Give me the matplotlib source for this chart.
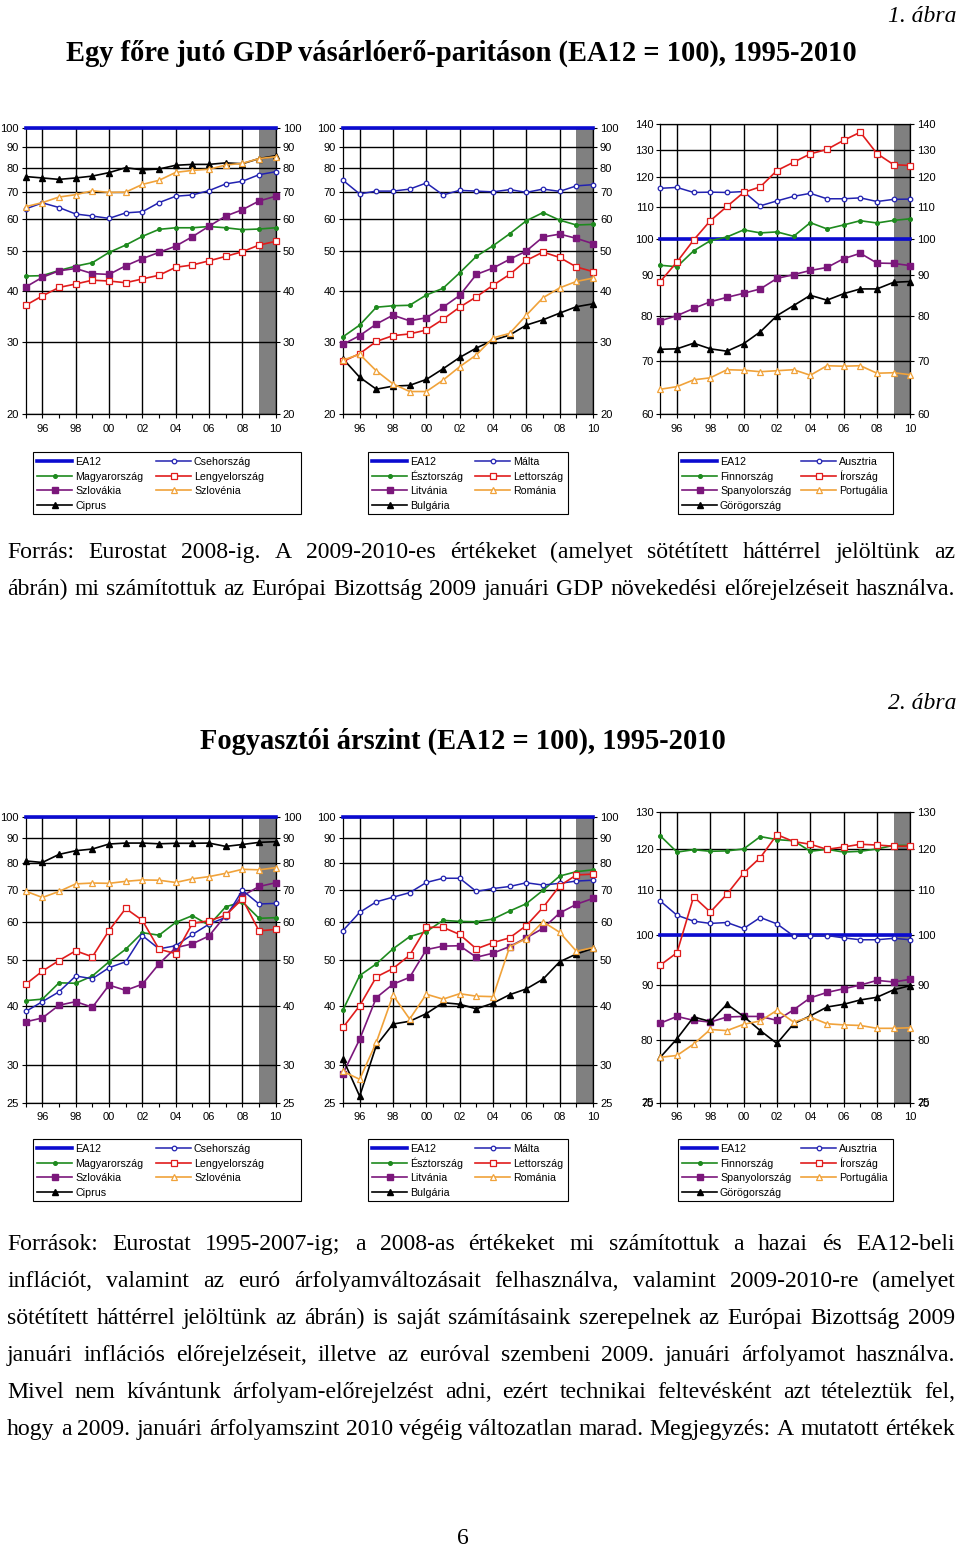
import numpy as np
import matplotlib
matplotlib.use('Agg')
import matplotlib.pyplot as plt
from matplotlib.lines import Line2D
from matplotlib.patches import Rectangle
from matplotlib.ticker import FixedLocator, NullLocator, NullFormatter

plt.rcParams['font.family'] = 'Liberation Sans'

years = np.arange(1995, 2011)
ea12 = [100] * 16

# 1. abra - GDP per capita, PPS (EA12 = 100)
gdp_cz = [63.5, 65.7, 64.0, 61.7, 61.0, 60.2, 62.1, 62.5, 65.8, 68.2, 68.7, 70.4, 73.1, 74.2, 77.0, 78.3]
gdp_hu = [43.5, 43.6, 44.9, 46.0, 46.9, 49.7, 51.8, 54.4, 56.6, 57.1, 57.1, 57.5, 57.1, 56.5, 56.7, 57.1]
gdp_sk = [40.9, 43.2, 44.8, 45.4, 44.1, 43.9, 46.1, 48.0, 49.7, 51.5, 54.3, 57.6, 61.0, 63.2, 66.4, 68.2]
gdp_pl = [36.9, 38.9, 40.8, 41.6, 42.5, 42.3, 41.9, 42.8, 43.7, 45.7, 46.3, 47.4, 48.6, 49.9, 51.8, 52.9]
gdp_si = [64.3, 65.8, 67.9, 68.8, 70.3, 69.7, 69.8, 72.9, 74.6, 78.0, 78.9, 79.4, 81.3, 82.1, 84.3, 85.2]
gdp_cy = [76.2, 75.6, 75.0, 75.6, 76.4, 77.9, 80.1, 79.1, 79.5, 81.2, 81.6, 81.6, 82.3, 81.9, 84.3, 85.7]

gdp_mt = [74.6, 69.1, 70.2, 70.2, 71.0, 73.5, 68.7, 70.5, 70.2, 69.9, 70.8, 69.7, 71.0, 70.1, 72.3, 72.8]
gdp_ee = [30.9, 33.0, 36.5, 36.8, 36.9, 39.1, 40.6, 44.3, 48.6, 51.6, 55.2, 59.4, 62.2, 59.6, 58.0, 58.2]
gdp_lv = [26.9, 28.1, 30.1, 31.1, 31.4, 32.1, 34.1, 36.5, 38.7, 41.3, 43.9, 47.5, 49.8, 48.3, 45.8, 44.6]
gdp_lt = [29.6, 31.1, 33.2, 34.9, 33.8, 34.4, 36.5, 39.0, 43.9, 45.5, 47.8, 50.1, 54.2, 55.1, 53.8, 52.2]
gdp_ro = [27.1, 28.0, 25.5, 23.7, 22.7, 22.7, 24.2, 26.1, 27.9, 30.7, 31.5, 34.9, 38.5, 40.7, 42.2, 43.0]
gdp_bg = [27.3, 24.6, 23.0, 23.4, 23.5, 24.3, 25.8, 27.5, 29.0, 30.3, 31.2, 33.0, 34.0, 35.3, 36.6, 37.2]

gdp_at = [116.1, 116.4, 114.7, 114.8, 114.7, 115.0, 110.3, 111.9, 113.4, 114.4, 112.6, 112.6, 112.9, 111.7, 112.4, 112.5]
gdp_fi = [92.7, 92.3, 96.7, 99.6, 100.7, 102.8, 101.9, 102.2, 100.9, 105.0, 103.1, 104.3, 105.6, 104.9, 105.7, 106.2]
gdp_ie = [88.4, 93.6, 99.8, 105.6, 110.1, 114.7, 116.6, 122.3, 125.3, 128.4, 130.1, 133.6, 136.8, 128.5, 124.4, 124.1]
gdp_es = [78.8, 80.0, 81.7, 83.3, 84.4, 85.4, 86.5, 89.2, 90.2, 91.3, 92.1, 94.5, 96.0, 93.3, 93.2, 92.6]
gdp_pt = [64.5, 65.0, 66.3, 66.7, 68.3, 68.2, 67.9, 68.1, 68.3, 67.2, 69.1, 69.0, 69.1, 67.6, 67.7, 67.3]
gdp_gr = [72.5, 72.6, 73.8, 72.6, 72.1, 73.7, 76.3, 80.0, 82.4, 84.9, 83.7, 85.3, 86.5, 86.5, 88.2, 88.4]

# 2. abra - price level (EA12 = 100)
cpi_cz = [38.9, 40.8, 42.8, 46.2, 45.6, 48.1, 49.5, 56.2, 52.7, 53.5, 56.5, 59.4, 61.4, 70.0, 65.5, 65.7]
cpi_hu = [41.0, 41.3, 44.7, 44.6, 46.2, 49.5, 52.6, 57.0, 56.3, 59.9, 61.9, 59.1, 64.6, 66.2, 61.1, 61.3]
cpi_sk = [37.0, 37.7, 40.1, 40.8, 39.7, 44.2, 43.1, 44.4, 49.0, 53.0, 54.0, 56.1, 62.0, 68.1, 71.3, 72.6]
cpi_pl = [44.4, 47.3, 49.8, 52.2, 50.7, 57.6, 64.1, 60.5, 52.6, 51.5, 59.6, 60.4, 62.0, 67.1, 57.5, 57.9]
cpi_si = [69.7, 67.6, 69.6, 72.2, 72.5, 72.4, 73.1, 73.6, 73.5, 72.7, 74.0, 74.8, 76.0, 77.5, 77.3, 78.1]
cpi_cy = [80.7, 80.1, 83.3, 84.8, 85.5, 87.6, 88.0, 88.0, 87.7, 87.9, 87.9, 88.0, 86.6, 87.4, 88.3, 88.6]

cpi_mt = [57.6, 62.9, 66.2, 67.7, 69.2, 72.7, 74.2, 74.2, 69.6, 70.6, 71.3, 72.6, 71.8, 72.4, 73.2, 73.5]
cpi_ee = [39.2, 46.3, 49.0, 52.7, 55.9, 57.3, 60.5, 60.2, 60.1, 60.9, 63.3, 65.6, 70.0, 75.0, 76.6, 77.3]
cpi_lv = [36.0, 40.0, 46.0, 47.9, 51.1, 58.5, 58.5, 56.5, 52.7, 54.3, 55.6, 59.0, 64.4, 71.5, 75.4, 75.7]
cpi_lt = [28.8, 34.0, 41.6, 44.4, 45.9, 52.5, 53.4, 53.5, 50.6, 51.6, 53.3, 55.6, 58.2, 62.7, 65.4, 67.3]
cpi_ro = [29.1, 28.0, 33.5, 42.1, 37.5, 42.3, 41.3, 42.4, 41.9, 41.8, 53.2, 55.4, 60.1, 57.1, 52.1, 53.0]
cpi_bg = [30.9, 25.8, 33.0, 36.6, 37.1, 38.5, 40.6, 40.3, 39.4, 40.5, 42.2, 43.4, 45.5, 49.5, 51.4, 52.8]

cpi_at = [107.5, 104.3, 103.0, 102.5, 102.7, 101.4, 103.8, 102.4, 99.8, 99.8, 99.9, 99.4, 99.0, 99.0, 99.3, 99.0]
cpi_fi = [123.5, 119.3, 119.9, 119.5, 119.6, 120.1, 123.3, 122.5, 122.2, 119.5, 120.0, 119.3, 119.5, 120.1, 121.0, 121.0]
cpi_ie = [93.8, 96.3, 108.5, 105.0, 109.1, 114.1, 117.9, 123.8, 122.0, 121.3, 120.0, 120.6, 121.3, 121.1, 120.8, 120.8]
cpi_es = [82.9, 84.1, 83.4, 83.1, 84.0, 84.1, 84.1, 83.4, 85.3, 87.5, 88.5, 89.2, 89.9, 90.8, 90.5, 91.0]
cpi_pt = [77.1, 77.4, 79.3, 81.8, 81.6, 82.7, 83.3, 85.2, 83.1, 84.0, 82.8, 82.6, 82.5, 82.0, 82.0, 82.1]
cpi_gr = [77.1, 80.2, 84.0, 83.2, 86.3, 84.1, 81.6, 79.4, 82.8, 84.2, 85.8, 86.3, 87.1, 87.6, 89.0, 89.8]

names_1 = ['EA12', 'Magyarország', 'Szlovákia', 'Ciprus', 'Csehország', 'Lengyelország', 'Szlovénia']
names_2 = ['EA12', 'Észtország', 'Litvánia', 'Bulgária', 'Málta', 'Lettország', 'Románia']
names_3 = ['EA12', 'Finnország', 'Spanyolország', 'Görögország', 'Ausztria', 'Írország', 'Portugália']

# line styles, same order as the legend names
styles = [
    dict(color='#0b0bd0', lw=2.6),
    dict(color='#1e8a1e', lw=1.2, marker='o', ms=2.6),
    dict(color='#7b177b', lw=1.2, marker='s', ms=4),
    dict(color='black', lw=1.2, marker='^', ms=4.5),
    dict(color='#2222b0', lw=1.1, marker='o', ms=3.3, mfc='white', mew=0.9),
    dict(color='#e01c1c', lw=1.2, marker='s', ms=4.3, mfc='white', mew=0.9),
    dict(color='#f0a23a', lw=1.2, marker='^', ms=4.8, mfc='white', mew=0.9),
]

W, H = 960, 1547
fig = plt.figure(figsize=(W / 100, H / 100), dpi=100)


def fx(px):
    return px / W


def fy(py):
    return 1 - py / H


def panel(left, top, bottom, series, yticks, ylim):
    ax = fig.add_axes([fx(left), fy(bottom), 250 / W, (bottom - top) / H])
    ax.set_yscale('log')
    ax.axvspan(2009, 2010, color='#808080', lw=0, zorder=0.3)
    for vals, st in zip(series, styles):
        ax.plot(years, vals, clip_on=False, zorder=3, **st)
    ax.set_xlim(1995, 2010)
    ax.set_ylim(*ylim)
    ax.yaxis.set_major_locator(FixedLocator(yticks))
    ax.yaxis.set_minor_locator(NullLocator())
    ax.yaxis.set_minor_formatter(NullFormatter())
    ax.set_yticklabels([str(t) for t in yticks])
    ax.set_xticks(range(1996, 2011, 2))
    ax.set_xticklabels(['%02d' % (y % 100) for y in range(1996, 2011, 2)])
    ax.set_xticks(range(1995, 2011), minor=True)
    ax.tick_params(axis='y', which='both', direction='out', left=True, right=True,
                   labelleft=True, labelright=True, length=3, width=0.8, pad=2, labelsize=8)
    ax.tick_params(axis='x', which='both', direction='out', length=3, width=0.8, pad=4, labelsize=8)
    ax.set_axisbelow(True)
    ax.grid(True, which='major', color='black', lw=1.0)
    for s in ax.spines.values():
        s.set_linewidth(0.9)
    return ax


def legend(names, left, top, width, col2_text, height=62):
    # box drawn by hand, entries laid out in two columns (4 + 3)
    fig.add_artist(Rectangle((fx(left), fy(top + height)), width / W, height / H,
                             transform=fig.transFigure, fill=False, ec='black', lw=0.8))
    for i, (name, st) in enumerate(zip(names, styles)):
        col, row = (0, i) if i < 4 else (1, i - 4)
        tx = left + 42 if col == 0 else col2_text
        hx = tx - 38
        yc = top + 9 + 14.6 * row
        fig.add_artist(Line2D([fx(hx), fx(hx + 17.5), fx(hx + 35)], [fy(yc)] * 3,
                              transform=fig.transFigure, markevery=[1], **st))
        fig.text(fx(tx), fy(yc + 4), name, fontsize=7.7, va='baseline', ha='left')


lefts = [25.7, 343, 660.3]
t20 = [20, 30, 40, 50, 60, 70, 80, 90, 100]
t25 = [25, 30, 40, 50, 60, 70, 80, 90, 100]

panel(lefts[0], 128.3, 414, [ea12, gdp_hu, gdp_sk, gdp_cy, gdp_cz, gdp_pl, gdp_si], t20, (20, 100))
panel(lefts[1], 128.3, 414, [ea12, gdp_ee, gdp_lt, gdp_bg, gdp_mt, gdp_lv, gdp_ro], t20, (20, 100))
panel(lefts[2], 124.3, 414, [ea12, gdp_fi, gdp_es, gdp_gr, gdp_at, gdp_ie, gdp_pt],
      list(range(60, 141, 10)), (60, 140))

panel(lefts[0], 816.7, 1102.7, [ea12, cpi_hu, cpi_sk, cpi_cy, cpi_cz, cpi_pl, cpi_si], t25, (25, 100))
panel(lefts[1], 816.7, 1102.7, [ea12, cpi_ee, cpi_lt, cpi_bg, cpi_mt, cpi_lv, cpi_ro], t25, (25, 100))
ax6 = panel(lefts[2], 811.7, 1102.7, [ea12, cpi_fi, cpi_es, cpi_gr, cpi_at, cpi_ie, cpi_pt],
            list(range(70, 131, 10)), (70, 130))
# the original has a stray "25" printed over the bottom labels
for xa, dx, ha in [(0, -5, 'right'), (1, 5, 'left')]:
    ax6.annotate('25', xy=(xa, 70), xycoords=ax6.get_yaxis_transform(), xytext=(dx, 0),
                 textcoords='offset points', ha=ha, va='center', fontsize=8)

for top in [452, 1139]:
    legend(names_1, 33, top, 268, 194)
    legend(names_2, 368, top, 200, 513)
    legend(names_3, 678, top, 215, 839)

# ---- texts ----
serif = 'Liberation Serif'
renderer = fig.canvas.get_renderer()


def text_width(s, **kw):
    t = fig.text(0, 0, s, **kw)
    w = t.get_window_extent(renderer).width
    t.remove()
    return w


def justify(line, base_y, size, x0=7, x1=955):
    words = line.split(' ')
    texts = [fig.text(0, fy(base_y), w, family=serif, fontsize=size, va='baseline') for w in words]
    widths = [t.get_window_extent(renderer).width for t in texts]
    gap = (x1 - x0 - sum(widths)) / (len(words) - 1)
    x = x0
    for t, w in zip(texts, widths):
        t.set_x(fx(x))
        x += w + gap


title1 = 'Egy főre jutó GDP vásárlóerő-paritáson (EA12 = 100), 1995-2010'
title2 = 'Fogyasztói árszint (EA12 = 100), 1995-2010'
tsize = 18 * 790 / text_width(title1, family=serif, fontsize=18, weight='bold')
fig.text(fx(461), fy(53), title1, family=serif, fontsize=tsize, weight='bold', ha='center', va='center')
fig.text(fx(463), fy(741), title2, family=serif, fontsize=tsize, weight='bold', ha='center', va='center')
fig.text(fx(956), fy(22), '1. ábra', family=serif, fontsize=17, style='italic', ha='right', va='baseline')
fig.text(fx(956), fy(709), '2. ábra', family=serif, fontsize=17, style='italic', ha='right', va='baseline')

para1 = [
    'Forrás: Eurostat 2008-ig. A 2009-2010-es értékeket (amelyet sötétített háttérrel jelöltünk az',
    'ábrán) mi számítottuk az Európai Bizottság 2009 januári GDP növekedési előrejelzéseit használva.',
]
para2 = [
    'Források: Eurostat 1995-2007-ig; a 2008-as értékeket mi számítottuk a hazai és EA12-beli',
    'inflációt, valamint az euró árfolyamváltozásait felhasználva, valamint 2009-2010-re (amelyet',
    'sötétített háttérrel jelöltünk az ábrán) is saját számításaink szerepelnek az Európai Bizottság 2009',
    'januári inflációs előrejelzéseit, illetve az euróval szembeni 2009. januári árfolyamot használva.',
    'Mivel nem kívántunk árfolyam-előrejelzést adni, ezért technikai feltevésként azt tételeztük fel,',
    'hogy a 2009. januári árfolyamszint 2010 végéig változatlan marad. Megjegyzés: A mutatott értékek',
]
widest = max(text_width(l, family=serif, fontsize=16) for l in para1 + para2)
psize = min(18, 16 * 946 / widest)

for i, line in enumerate(para1):
    justify(line, 558 + 37 * i, psize)
for i, line in enumerate(para2):
    justify(line, 1250 + 37 * i, psize)

fig.text(fx(463), fy(1544), '6', family=serif, fontsize=17, ha='center', va='baseline')

fig.savefig('out.png', dpi=100)
